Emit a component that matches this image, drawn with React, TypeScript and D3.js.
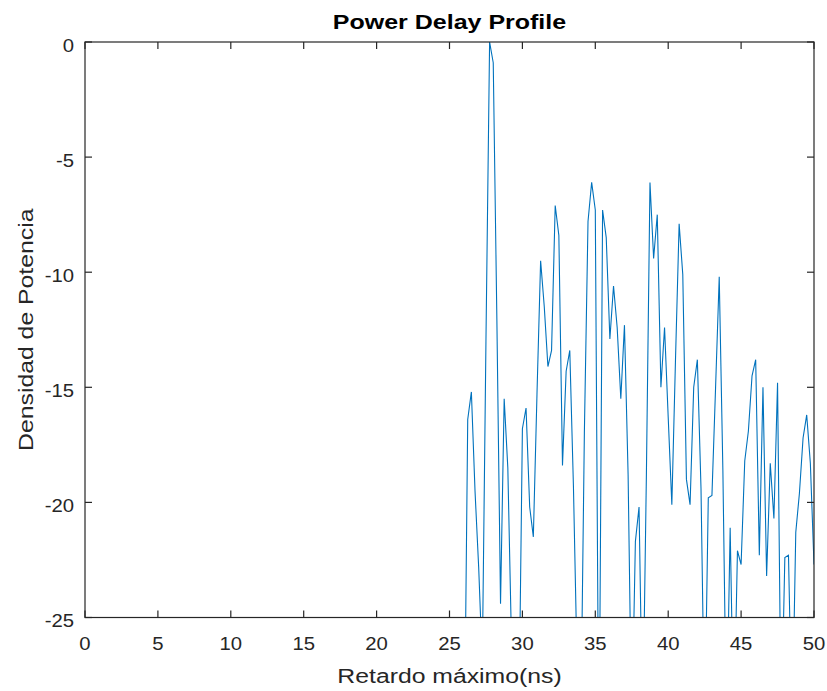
import React from "react";
import * as d3 from "d3";

const title = "Power Delay Profile";
const xLabel = "Retardo máximo(ns)";
const yLabel = "Densidad de Potencia";
const xTicks = [0, 5, 10, 15, 20, 25, 30, 35, 40, 45, 50];
const yTicks = [0, -5, -10, -15, -20, -25];
const delayStart = 26;
const delayStep = 0.25;
// power values (dB) at delays 26.00, 26.25, ... 50.00 (values below -25 are clipped)
const powerValues = [
  -32, -16.4, -15.2, -19.5, -22.8, -27, -13, 0, -0.9, -12.1, -24.4, -15.5, -18.5, -26, -35, -30,
  -16.8, -15.9, -20.2, -21.5, -15.3, -9.5, -11.5, -14.1, -13.4, -7.1, -8.4, -18.4, -14.3, -13.4,
  -19.3, -27, -30, -17, -7.8, -6.1, -7.3, -32, -7.3, -8.5, -12.9, -10.6, -12.4, -15.5, -12.3,
  -18.8, -30, -21.7, -20.2, -30, -19, -6.1, -9.4, -7.5, -15.0, -12.4, -16.3, -20.1, -13.8, -7.9,
  -10.1, -19.0, -20.1, -15.0, -13.8, -19.4, -30, -19.8, -19.7, -15.0, -10.2, -18.6, -30, -21.1,
  -30, -22.1, -22.7, -18.2, -16.9, -14.5, -13.8, -22.3, -15.0, -23.2, -18.3, -20.7, -14.8, -30,
  -22.4, -22.3, -30, -21.3, -19.6, -17.2, -16.2, -18.3, -22.7,
];

const W = 827;
const H = 691;
const L = 85;
const R = 814;
const T = 42;
const B = 617.5;
const axisColor = "#262626";
const font = "'Liberation Sans', Arial, Helvetica, sans-serif";

function SText(props: {
  x: number;
  y: number;
  sx: number;
  size: number;
  anchor: string;
  rotate?: number;
  weight?: string;
  fill?: string;
  children: React.ReactNode;
}) {
  const { x, y, sx, size, anchor, rotate, weight, fill, children } = props;
  const tr = `translate(${x},${y})${rotate ? ` rotate(${rotate})` : ""} scale(${sx},1)`;
  return (
    <text
      transform={tr}
      textAnchor={anchor}
      fontSize={size}
      fontWeight={weight || "normal"}
      fill={fill || axisColor}
    >
      {children}
    </text>
  );
}

export default function App() {
  const x = d3.scaleLinear().domain([0, 50]).range([L, R]);
  const y = d3.scaleLinear().domain([-25, 0]).range([B, T]);
  const data = powerValues.map((v, i) => ({ t: delayStart + i * delayStep, p: v }));
  const line = d3
    .line<{ t: number; p: number }>()
    .x((d) => x(d.t))
    .y((d) => y(d.p));
  const tl = 7;
  return (
    <svg
      width={W}
      height={H}
      style={{ position: "absolute", left: 0, top: 0, background: "#fff" }}
      fontFamily={font}
    >
      <rect x={0} y={0} width={W} height={H} fill="#fff" />
      <defs>
        <clipPath id="plotclip">
          <rect x={L} y={T} width={R - L} height={B - T} />
        </clipPath>
      </defs>
      <path
        d={line(data) || ""}
        fill="none"
        stroke="#0072BD"
        strokeWidth={1.1}
        clipPath="url(#plotclip)"
      />
      <rect x={L} y={T} width={R - L} height={B - T} fill="none" stroke={axisColor} strokeWidth={1.2} />
      {xTicks.map((t) => (
        <g key={"x" + t}>
          <line x1={x(t)} x2={x(t)} y1={B} y2={B - tl} stroke={axisColor} strokeWidth={1.2} />
          <line x1={x(t)} x2={x(t)} y1={T} y2={T + tl} stroke={axisColor} strokeWidth={1.2} />
          <SText x={x(t)} y={650} sx={1.16} size={17.5} anchor="middle">
            {t}
          </SText>
        </g>
      ))}
      {yTicks.map((t) => (
        <g key={"y" + t}>
          <line x1={L} x2={L + tl} y1={y(t)} y2={y(t)} stroke={axisColor} strokeWidth={1.2} />
          <line x1={R} x2={R - tl} y1={y(t)} y2={y(t)} stroke={axisColor} strokeWidth={1.2} />
          <SText x={74} y={y(t) + 9.5} sx={1.16} size={17.5} anchor="end">
            {t}
          </SText>
        </g>
      ))}
      <SText x={(L + R) / 2} y={28.5} sx={1.25} size={20} anchor="middle" weight="bold" fill="#000">
        {title}
      </SText>
      <SText x={(L + R) / 2} y={683} sx={1.18} size={21} anchor="middle">
        {xLabel}
      </SText>
      <SText x={33} y={(T + B) / 2} sx={1.18} size={21} anchor="middle" rotate={-90}>
        {yLabel}
      </SText>
    </svg>
  );
}
